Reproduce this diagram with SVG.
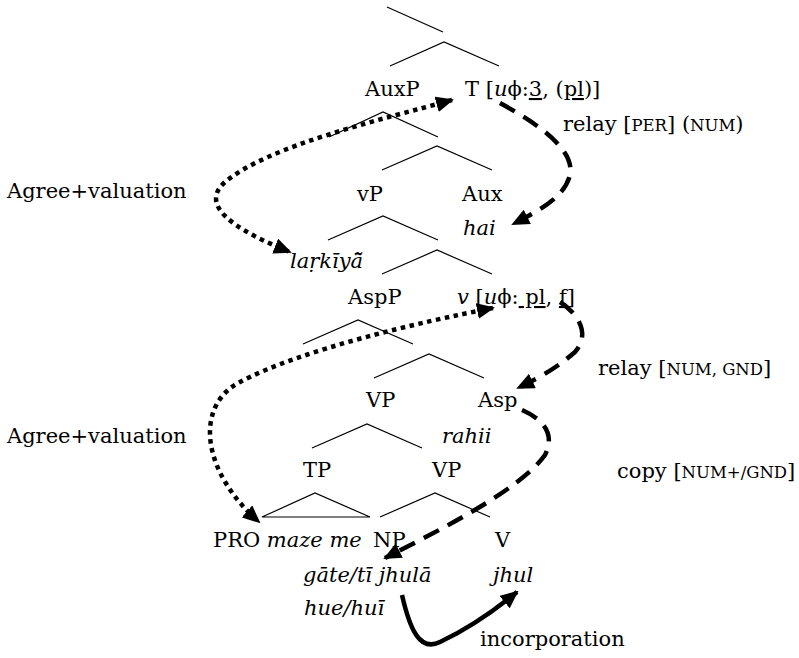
<svg xmlns="http://www.w3.org/2000/svg" width="799" height="658" viewBox="0 0 799 658">
<style>
text{font-family:"DejaVu Serif","Liberation Serif",serif;font-size:21px;fill:#000}
.i{font-style:italic}
.sc{font-size:16.5px}
.u{text-decoration:underline}
.br{fill:none;stroke:#000;stroke-width:1.2}
.dot{fill:none;stroke:#000;stroke-width:4.5;stroke-dasharray:4.5 4.5}
.dash{fill:none;stroke:#000;stroke-width:4.5;stroke-dasharray:17 10}
.solid{fill:none;stroke:#000;stroke-width:4.5}
</style>
<defs>
<marker id="ah" viewBox="0 0 18 16" refX="16" refY="8" markerWidth="18" markerHeight="16" orient="auto-start-reverse" markerUnits="userSpaceOnUse">
<path d="M0,0 L18,8 L0,16 z" fill="#000"/>
</marker>
</defs>
<rect width="799" height="658" fill="#fff"/>
<g id="branches">
<polyline class="br" points="387,7 443,32"/>
<polyline class="br" points="390,66 444,42 499,66"/>
<polyline class="br" points="329,137 383,112 438,137"/>
<polyline class="br" points="382,170 437,146 492,170"/>
<polyline class="br" points="328,240 383,216 438,240"/>
<polyline class="br" points="382,274 437,250 492,274"/>
<polyline class="br" points="303,344 358,320 413,344"/>
<polyline class="br" points="374,378 429,354 484,378"/>
<polyline class="br" points="312,448 367,424 422,448"/>
<polygon class="br" points="262,517 315,493 370,517"/>
<polyline class="br" points="380,517 435,493 490,517"/>
</g>
<g id="AuxP"><text x="365" y="96">AuxP</text></g>
<g id="T"><text x="465" y="96">T [<tspan class="i">u</tspan>ϕ:<tspan class="u">3</tspan>, (<tspan class="u">pl</tspan>)]</text></g>
<g id="vP"><text x="357" y="201">vP</text></g>
<g id="Aux"><text x="462" y="201">Aux</text><text class="i" x="463" y="235">hai</text></g>
<g id="larkiya"><text class="i" x="290" y="268">laṛkīyā̃</text></g>
<g id="AspP"><text x="348" y="304">AspP</text></g>
<g id="v"><text x="457" y="304"><tspan class="i">v</tspan> [<tspan class="i">u</tspan>ϕ:<tspan class="u"> pl</tspan>, <tspan class="u">f</tspan>]</text></g>
<g id="VP1"><text x="366" y="407">VP</text></g>
<g id="Asp"><text x="478" y="407">Asp</text><text class="i" x="442" y="443">rahii</text></g>
<g id="TP"><text x="303" y="477">TP</text></g>
<g id="VP2"><text x="432" y="477">VP</text></g>
<g id="PRO"><text x="213" y="547">PRO <tspan class="i">maze me</tspan></text></g>
<g id="NP"><text x="373" y="547">NP</text><text class="i" x="303" y="582">gāte/tī jhulā</text><text class="i" x="304" y="615">hue/huī</text></g>
<g id="V"><text x="495" y="547">V</text><text class="i" x="493" y="582">jhul</text></g>
<g id="labels">
<text x="7" y="198">Agree+valuation</text>
<text x="7" y="443">Agree+valuation</text>
<text x="563" y="131">relay [<tspan class="sc">PER</tspan>] (<tspan class="sc">NUM</tspan>)</text>
<text x="598" y="375">relay [<tspan class="sc">NUM, GND</tspan>]</text>
<text x="617" y="478">copy [<tspan class="sc">NUM+/GND</tspan>]</text>
<text x="480" y="646">incorporation</text>
</g>
<g id="connectors">
<path class="dot" marker-start="url(#ah)" marker-end="url(#ah)" d="M452,100 C380,120 270,145 225,182 C205,200 215,222 290,252"/>
<path class="dot" marker-start="url(#ah)" marker-end="url(#ah)" d="M493,308 C420,322 300,350 240,382 C195,405 200,470 259,522"/>
<path class="dash" marker-end="url(#ah)" d="M500,103 C540,125 575,150 570,175 C565,195 545,208 513,224"/>
<path class="dash" marker-end="url(#ah)" d="M560,302 C580,315 590,335 575,352 C560,365 545,375 518,388"/>
<path class="dash" marker-end="url(#ah)" d="M522,410 C545,420 555,435 545,455 C520,490 440,530 385,558"/>
<path class="solid" marker-end="url(#ah)" d="M402,595 C410,630 420,652 440,642 C470,628 495,610 517,592"/>
</g>
</svg>
